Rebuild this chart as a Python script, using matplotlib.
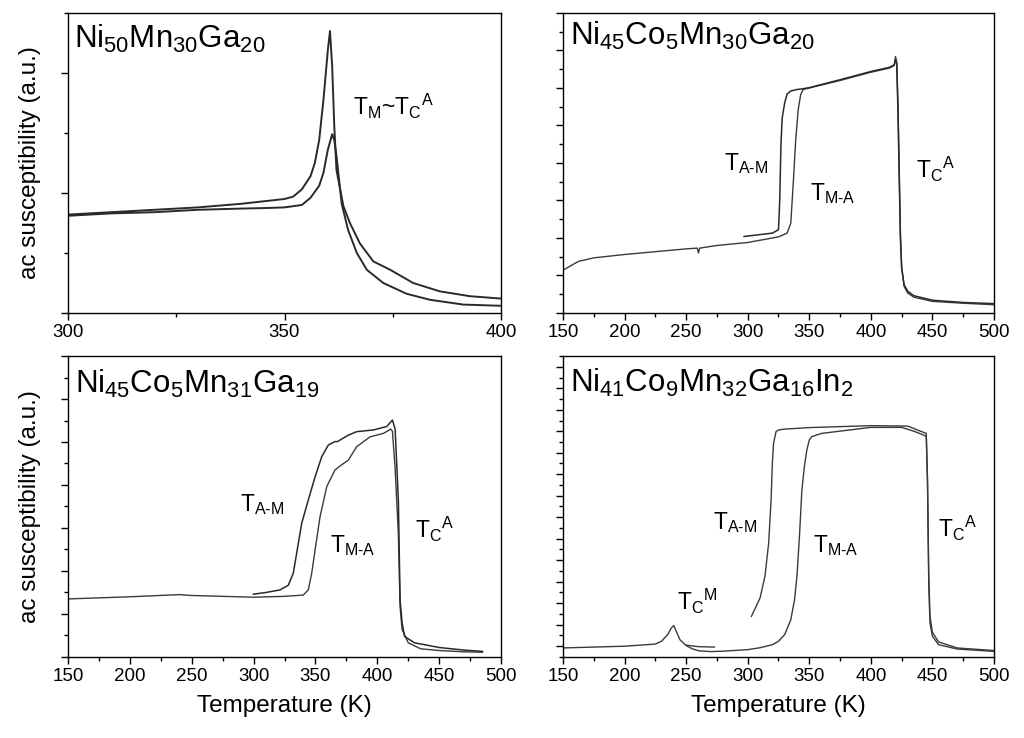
import matplotlib
matplotlib.use("Agg")
import matplotlib.pyplot as plt
from matplotlib.ticker import MultipleLocator, NullFormatter

plt.rcParams['font.family'] = ['Liberation Sans', 'DejaVu Sans']
plt.rcParams['mathtext.fontset'] = 'custom'
plt.rcParams['mathtext.rm'] = 'Liberation Sans'
plt.rcParams['mathtext.it'] = 'Liberation Sans'
plt.rcParams['mathtext.bf'] = 'Liberation Sans'
plt.rcParams['mathtext.default'] = 'regular'

# ---------------- Panel (a): Ni50Mn30Ga20 ----------------
a_T1 = [300, 310, 320, 330, 340, 345, 350, 352, 354, 356, 357, 358, 359, 360, 360.5,
        361, 361.5, 362, 363.6, 365.1, 367.4, 370.5, 374.4, 379.7, 385.9, 392.8, 400]
a_y1 = [0.82, 0.84, 0.86, 0.88, 0.91, 0.93, 0.95, 0.97, 1.03, 1.14, 1.25, 1.44, 1.78, 2.19, 2.35,
        2.06, 1.55, 1.19, 0.89, 0.75, 0.58, 0.43, 0.36, 0.25, 0.18, 0.14, 0.12]
a_T2 = [300, 310, 320, 330, 340, 346, 350, 354, 356, 358, 359, 360, 361, 361.5, 362, 363.2,
        364.7, 366.7, 369.0, 372.8, 378.2, 383.6, 391.3, 400]
a_y2 = [0.81, 0.83, 0.84, 0.86, 0.87, 0.875, 0.88, 0.90, 0.96, 1.06, 1.17, 1.36, 1.49, 1.44, 1.31, 0.91,
        0.69, 0.50, 0.36, 0.25, 0.16, 0.11, 0.07, 0.06]

# ---------------- Panel (b): Ni45Co5Mn30Ga20 ----------------
b_T_heat = [150, 160, 163, 175, 200, 250, 259, 260, 261, 275, 300, 325, 332, 335, 337, 339, 341,
            343, 345, 350, 375, 400, 415, 419, 420, 421, 422, 423, 424, 425, 427, 430, 435, 450, 475, 500]
b_y_heat = [1.14, 1.33, 1.38, 1.47, 1.56, 1.71, 1.73, 1.60, 1.73, 1.80, 1.88, 2.03, 2.13, 2.40, 3.47, 4.62, 5.42,
            5.82, 5.96, 6.00, 6.20, 6.42, 6.53, 6.60, 6.84, 6.70, 5.60, 3.90, 2.10, 1.24, 0.71, 0.53, 0.42, 0.31, 0.26, 0.22]
b_T_cool = [297, 310, 320, 325, 326, 327, 328, 330, 332, 335, 340, 345, 350, 375, 400, 415, 419, 420,
            421, 422, 423, 424, 425, 427, 430, 435, 450, 475, 500]
b_y_cool = [2.04, 2.09, 2.13, 2.22, 3.00, 4.50, 5.20, 5.60, 5.84, 5.92, 5.96, 5.98, 6.01, 6.22, 6.44, 6.55, 6.62, 6.75,
            6.65, 5.40, 3.70, 2.00, 1.20, 0.75, 0.58, 0.46, 0.34, 0.28, 0.25]

# ---------------- Panel (c): Ni45Co5Mn31Ga19 ----------------
c_T_heat = [150, 200, 240, 250, 275, 300, 325, 340.2, 344.2, 347.0, 349.7, 353.7, 359.1, 365.8, 371.2,
            376.6, 383.3, 394.1, 404.9, 410.8, 412.2, 414.3, 417.0, 418.4, 420, 425, 435, 450, 470, 485]
c_y_heat = [1.35, 1.40, 1.45, 1.43, 1.41, 1.39, 1.41, 1.44, 1.56, 1.95, 2.49, 3.26, 3.96, 4.35, 4.47,
            4.58, 4.89, 5.12, 5.20, 5.30, 5.25, 4.43, 2.88, 1.17, 0.64, 0.33, 0.19, 0.15, 0.12, 0.11]
c_T_cool = [299.8, 310, 321.4, 328.1, 332.1, 334.8, 338.9, 344.2, 349.7, 355.1, 360.4, 365.8, 367.8, 376.6,
            383.3, 396.8, 407.6, 412.2, 414.4, 417.0, 418.4, 420, 422, 430, 450, 470, 485]
c_y_cool = [1.46, 1.50, 1.56, 1.67, 1.95, 2.41, 3.11, 3.65, 4.19, 4.66, 4.93, 5.01, 5.01, 5.16,
            5.24, 5.28, 5.36, 5.51, 5.30, 3.65, 1.33, 0.80, 0.48, 0.33, 0.22, 0.16, 0.13]

# ---------------- Panel (d): Ni41Co9Mn32Ga16In2 ----------------
d_T_heat = [150, 200, 225, 230, 235, 238, 240, 242, 245, 250, 255, 260, 270, 280, 300, 310, 320, 325,
            330, 335, 338, 340, 342, 344, 346, 348, 350, 352, 360, 400, 425, 435, 443, 445, 446, 447,
            448, 450, 455, 470, 500]
d_y_heat = [-0.08, 0.00, 0.10, 0.23, 0.54, 0.85, 0.96, 0.69, 0.30, 0.03, -0.12, -0.21, -0.25, -0.23, -0.16, -0.07, 0.07, 0.23,
            0.54, 1.23, 2.16, 3.25, 5.10, 7.27, 8.35, 9.13, 9.59, 9.75, 9.90, 10.18, 10.18, 10.00, 9.82, 9.75, 7.58, 2.94,
            1.08, 0.46, 0.07, -0.13, -0.24]
d_T_cool = [303, 310, 314, 317, 319, 320, 321, 323, 325, 330, 350, 400, 430, 440, 445, 446, 447, 448,
            450, 455, 470, 500]
d_y_cool = [1.39, 2.24, 3.25, 4.79, 6.81, 8.51, 9.44, 9.98, 10.06, 10.10, 10.17, 10.26, 10.24, 10.01, 9.90, 7.80, 3.40,
            1.40, 0.65, 0.20, -0.08, -0.20]
d_T_low = [250, 260, 273]
d_y_low = [0.05, -0.02, -0.04]

fig = plt.figure(figsize=(10.24, 7.38), dpi=100)

ax_a = fig.add_axes([0.0664, 0.5759, 0.4229, 0.4065])
ax_b = fig.add_axes([0.5498, 0.5759, 0.4209, 0.4065])
ax_c = fig.add_axes([0.0664, 0.1098, 0.4229, 0.4078])
ax_d = fig.add_axes([0.5498, 0.1098, 0.4209, 0.4078])

lc = '#3a3a3a'
ax_a.plot(a_T1, a_y1, color='#2a2a2a', lw=1.4)
ax_a.plot(a_T2, a_y2, color='#2a2a2a', lw=1.4)
ax_b.plot(b_T_heat, b_y_heat, color=lc, lw=1.0)
ax_b.plot(b_T_cool, b_y_cool, color='#2a2a2a', lw=1.1)
ax_c.plot(c_T_heat, c_y_heat, color=lc, lw=1.0)
ax_c.plot(c_T_cool, c_y_cool, color='#2a2a2a', lw=1.1)
ax_d.plot(d_T_heat, d_y_heat, color=lc, lw=1.0)
ax_d.plot(d_T_cool, d_y_cool, color=lc, lw=1.0)
ax_d.plot(d_T_low, d_y_low, color=lc, lw=1.0)

ax_a.set_xlim(300, 400)
ax_a.set_ylim(0, 2.5)
ax_a.xaxis.set_major_locator(MultipleLocator(50))
ax_a.xaxis.set_minor_locator(MultipleLocator(25))
ax_a.yaxis.set_major_locator(MultipleLocator(1))
ax_a.yaxis.set_minor_locator(MultipleLocator(0.5))

for ax in (ax_b, ax_c, ax_d):
    ax.set_xlim(150, 500)
    ax.xaxis.set_major_locator(MultipleLocator(50))
    ax.xaxis.set_minor_locator(MultipleLocator(25))
    ax.yaxis.set_major_locator(MultipleLocator(1))
    ax.yaxis.set_minor_locator(MultipleLocator(0.5))
ax_b.set_ylim(0, 8)
ax_c.set_ylim(0, 7)
ax_d.set_ylim(-0.5, 13.5)

for ax in (ax_a, ax_b, ax_c, ax_d):
    ax.yaxis.set_major_formatter(NullFormatter())
    ax.tick_params(which='major', direction='out', length=5, width=1.0, labelsize=13.5, pad=3)
    ax.tick_params(which='minor', direction='out', length=3, width=1.0)
    for s in ax.spines.values():
        s.set_linewidth(1.0)

for ax in (ax_a, ax_c):
    ax.set_ylabel('ac susceptibility (a.u.)', fontsize=17.5)
    ax.yaxis.set_label_coords(-0.062, 0.5)
for ax in (ax_c, ax_d):
    ax.set_xlabel('Temperature (K)', fontsize=17.5)
    ax.xaxis.set_label_coords(0.5, -0.128)

big = 22.5
ax_a.text(0.014, 0.885, r'Ni$_{50}$Mn$_{30}$Ga$_{20}$', transform=ax_a.transAxes, fontsize=big, va='baseline')
ax_b.text(0.016, 0.893, r'Ni$_{45}$Co$_{5}$Mn$_{30}$Ga$_{20}$', transform=ax_b.transAxes, fontsize=big, va='baseline')
ax_c.text(0.016, 0.878, r'Ni$_{45}$Co$_{5}$Mn$_{31}$Ga$_{19}$', transform=ax_c.transAxes, fontsize=big, va='baseline')
ax_d.text(0.016, 0.881, r'Ni$_{41}$Co$_{9}$Mn$_{32}$Ga$_{16}$In$_{2}$', transform=ax_d.transAxes, fontsize=big, va='baseline')

fs = 16.5
AM = r'T$_{\text{A-M}}$'
MA = r'T$_{\text{M-A}}$'
TCA = r'T$_{C}$$^{A}$'
ax_a.text(0.658, 0.66, r'T$_{M}$~T$_{C}$$^{A}$', transform=ax_a.transAxes, fontsize=fs, va='baseline')

ax_b.text(0.373, 0.477, AM, transform=ax_b.transAxes, fontsize=fs, va='baseline')
ax_b.text(0.573, 0.377, MA, transform=ax_b.transAxes, fontsize=fs, va='baseline')
ax_b.text(0.819, 0.450, TCA, transform=ax_b.transAxes, fontsize=fs, va='baseline')

ax_c.text(0.397, 0.485, AM, transform=ax_c.transAxes, fontsize=fs, va='baseline')
ax_c.text(0.605, 0.350, MA, transform=ax_c.transAxes, fontsize=fs, va='baseline')
ax_c.text(0.801, 0.395, TCA, transform=ax_c.transAxes, fontsize=fs, va='baseline')

ax_d.text(0.264, 0.156, r'T$_{C}$$^{M}$', transform=ax_d.transAxes, fontsize=fs, va='baseline')
ax_d.text(0.349, 0.425, AM, transform=ax_d.transAxes, fontsize=fs, va='baseline')
ax_d.text(0.581, 0.350, MA, transform=ax_d.transAxes, fontsize=fs, va='baseline')
ax_d.text(0.871, 0.400, TCA, transform=ax_d.transAxes, fontsize=fs, va='baseline')

fig.savefig('out.png', dpi=100)
